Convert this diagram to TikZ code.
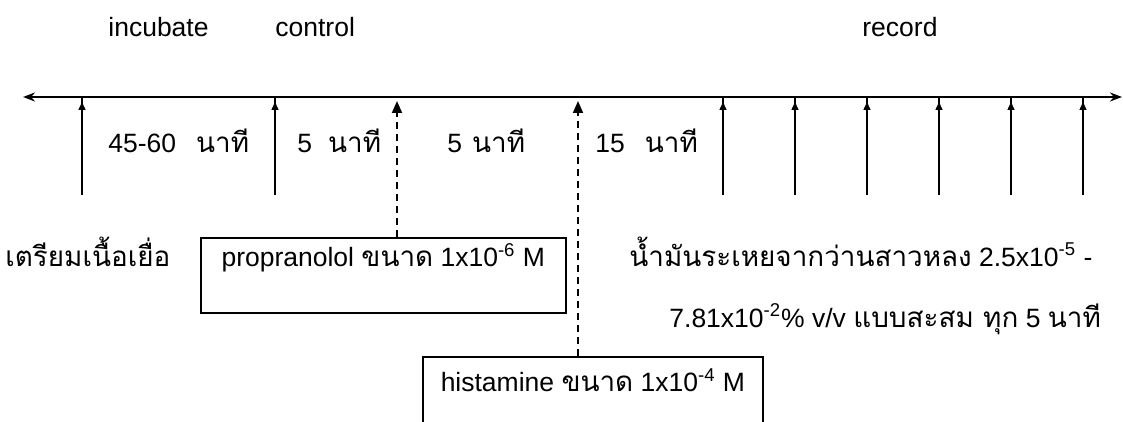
\documentclass[tikz,border=0pt]{standalone}
\usepackage{fontspec}
\setmainfont{Liberation Sans}
\newfontfamily\thaifont[Script=Thai, Scale=1.05]{Loma}
\usetikzlibrary{arrows.meta, decorations.markings}
\tikzset{
    timeline/.style={{Stealth[length=6pt,width=4.5pt]}-{Stealth[length=6pt,width=4.5pt]}, line width=1pt},
    tickline/.style={
        line width=0.75pt, postaction={decorate},
        decoration={markings, mark=at position -2.5pt with {\arrow{Triangle[length=4pt,width=3.5pt]}}}
    },
    doseline/.style={dash pattern=on 3.5pt off 2.5pt, line width=0.9pt, -{Triangle[length=6pt,width=5pt]}, shorten >=2pt},
    drugbox/.style={draw, line width=0.75pt, rectangle, inner ysep=0pt, anchor=north west, align=left},
    steptext/.style={anchor=base west, inner sep=0pt},
}

\begin{document}
\begin{tikzpicture}[x=0.5pt, y=-0.5pt, font=\fontsize{13.25pt}{16pt}\selectfont]
    \path[use as bounding box, clip] (0,0) rectangle (1123,422);

    % Phases
    \node[steptext] (incubate) at (108,37) {incubate};
    \node[steptext] (control) at (275,37) {control};
    \node[steptext] (record) at (862,37) {record};

    % Time line
    \coordinate (start) at (23,97);
    \coordinate (end) at (1122,97);
    \draw[timeline] (start) -- (end);

    % Ticks
    \foreach \x [count=\i] in {82,275,723,795,867,939,1011,1083}{
        \coordinate (t\i) at (\x,97);
        \coordinate (f\i) at (\x,195);
        \draw[tickline] (f\i) -- (t\i);
    }
    \coordinate (tprop) at (397,97);
    \coordinate (thist) at (578,97);

    % Intervals
    \node[steptext] (wait) at (108,153) {45-60\hspace{10pt}{\thaifont นาที}};
    \node[steptext] (base) at (297,153) {5\hspace{8pt}{\thaifont นาที}};
    \node[steptext] (block) at (447,153) {5\hspace{5pt}{\thaifont นาที}};
    \node[steptext] (agonist) at (595,153) {15\hspace{10pt}{\thaifont นาที}};

    % Drugs
    \node[steptext] (tissue) at (5,266) {\thaifont เตรียมเนื้อเยื่อ};
    \node[drugbox, minimum width=182.5pt, inner xsep=8pt, text height=14.5pt, text depth=23pt] (prop) at (200,237)
        {propranolol {\thaifont ขนาด} 1x10\textsuperscript{-6} M};
    \node[drugbox, minimum width=169.5pt, inner xsep=9pt, text height=17.5pt, text depth=24pt] (hist) at (422,356)
        {histamine {\thaifont ขนาด} 1x10\textsuperscript{-4} M};
    \node[steptext] (oil) at (629,266)
        {{\thaifont น้ำมันระเหยจากว่านสาวหลง} 2.5x10\textsuperscript{-5} -};
    \node[steptext] (dose) at (669,327)
        {7.81x10\textsuperscript{-2}\% v/v {\thaifont แบบสะสม ทุก} 5 {\thaifont นาที}};

    \draw[doseline] (prop.north -| tprop) -- (tprop);
    \draw[doseline] (hist.north -| thist) -- (thist);
\end{tikzpicture}
\end{document}
